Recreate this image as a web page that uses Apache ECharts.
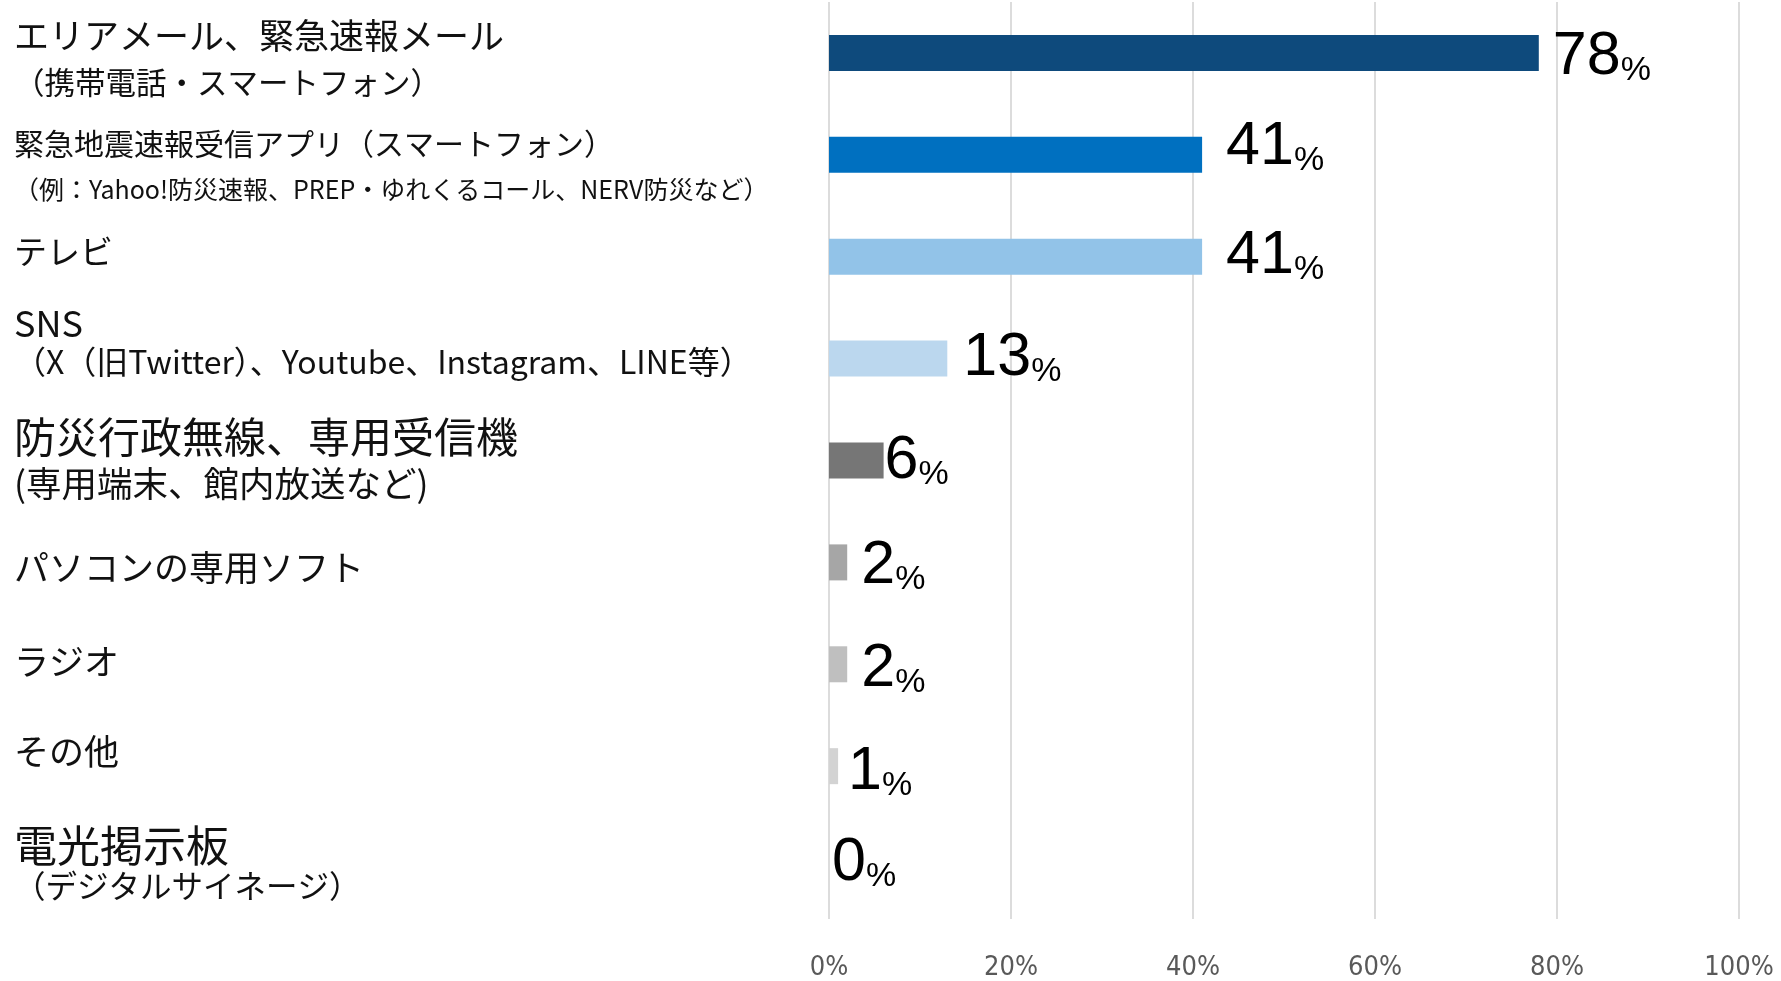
<!DOCTYPE html>
<html lang="ja">
<head>
<meta charset="utf-8">
<title>災害情報の入手手段</title>
<script src="https://cdn.jsdelivr.net/npm/echarts@6/dist/echarts.min.js"></script>
<style>
  html, body { margin: 0; padding: 0; background: #ffffff; }
  #chart { width: 1781px; height: 981px; }
</style>
</head>
<body>
<div id="chart"></div>
<script>
// Category names: first line and optional second line
const mainLabels = [
  'エリアメール、緊急速報メール',
  '緊急地震速報受信アプリ（スマートフォン）',
  'テレビ',
  'SNS',
  '防災行政無線、専用受信機',
  'パソコンの専用ソフト',
  'ラジオ',
  'その他',
  '電光掲示板'
];
const subLabels = [
  '（携帯電話・スマートフォン）',
  '（例：Yahoo!防災速報、PREP・ゆれくるコール、NERV防災など）',
  '',
  '（X（旧Twitter）、Youtube、Instagram、LINE等）',
  '(専用端末、館内放送など)',
  '',
  '',
  '',
  '（デジタルサイネージ）'
];
// Share of respondents (%)
const values = [78, 41, 41, 13, 6, 2, 2, 1, 0];
// Value axis ticks
const axisMin = 0;
const axisMax = 100;
const axisStep = 20;

// Styling per category
const barColors = ['#0E4A7C', '#0070C0', '#92C3E8', '#BBD7EE', '#767676', '#A6A6A6', '#BFBFBF', '#D3D3D3', '#D3D3D3'];
const mainFontSize = [35, 30, 33, 36, 42, 35, 35, 35, 43];
const subFontSize = [30.5, 25, 0, 32, 35.5, 0, 0, 0, 31.5];
const lineGap = [46, 46, 44, 39, 46, 44, 44, 44, 40];
const categoryShift = [6, 12, -5, -16, 0, 5, -3, -14, -2];
const valueGap = [14, 24, 24, 16, 1, 14, 14, 10, 3];
const valueShift = [4, -8, -1, 0, 1, 4, 5, 6, -5];

const jpFont = '"Noto Sans CJK JP", "Noto Sans", sans-serif';
const numFont = '"Liberation Sans", Arial, sans-serif';

// Rich text styles for the multi-line category labels;
// equal top/bottom padding moves a whole label block up or down
const rich = {};
mainLabels.forEach((m, i) => {
  const s = categoryShift[i];
  const pad = [s > 0 ? 2 * s : 0, 0, s < 0 ? -2 * s : 0, 0];
  rich['m' + i] = {
    fontFamily: jpFont, fontSize: mainFontSize[i], color: '#111111',
    lineHeight: lineGap[i], padding: pad
  };
  rich['s' + i] = {
    fontFamily: jpFont, fontSize: subFontSize[i] || 30, color: '#111111',
    lineHeight: lineGap[i], padding: pad
  };
});

const seriesData = values.map((v, i) => ({
  value: v,
  itemStyle: { color: barColors[i] },
  label: { distance: valueGap[i], offset: [0, valueShift[i]] }
}));

const chart = echarts.init(document.getElementById('chart'), null, { renderer: 'canvas' });
chart.setOption({
  animation: false,
  backgroundColor: '#ffffff',
  grid: { left: 829, right: 42, top: 2, bottom: 60, containLabel: false },
  xAxis: {
    type: 'value',
    min: axisMin,
    max: axisMax,
    interval: axisStep,
    axisLine: { show: false },
    axisTick: { show: false },
    splitLine: { show: true, lineStyle: { color: '#DCDCDC', width: 2 } },
    axisLabel: {
      formatter: '{value}%',
      margin: 35,
      color: '#595959',
      fontSize: 27,
      fontFamily: '"Liberation Sans Narrow", "DejaVu Sans Condensed", "Liberation Sans", sans-serif'
    }
  },
  yAxis: {
    type: 'category',
    inverse: true,
    data: mainLabels,
    axisLine: { show: false },
    axisTick: { show: false },
    splitLine: { show: false },
    axisLabel: {
      align: 'left',
      margin: 815,
      interval: 0,
      formatter: (value, index) => {
        let txt = '{m' + index + '|' + mainLabels[index] + '}';
        if (subLabels[index]) txt += '\n{s' + index + '|' + subLabels[index] + '}';
        return txt;
      },
      rich: rich
    }
  },
  series: [{
    type: 'bar',
    data: seriesData,
    barWidth: 36,
    label: {
      show: true,
      position: 'right',
      formatter: (p) => '{n|' + p.value + '}{p|%}',
      rich: {
        n: { fontFamily: numFont, fontSize: 61, color: '#000000', lineHeight: 61, verticalAlign: 'bottom' },
        p: { fontFamily: numFont, fontSize: 34, color: '#000000', lineHeight: 42, verticalAlign: 'bottom' }
      }
    }
  }]
});
</script>
</body>
</html>
